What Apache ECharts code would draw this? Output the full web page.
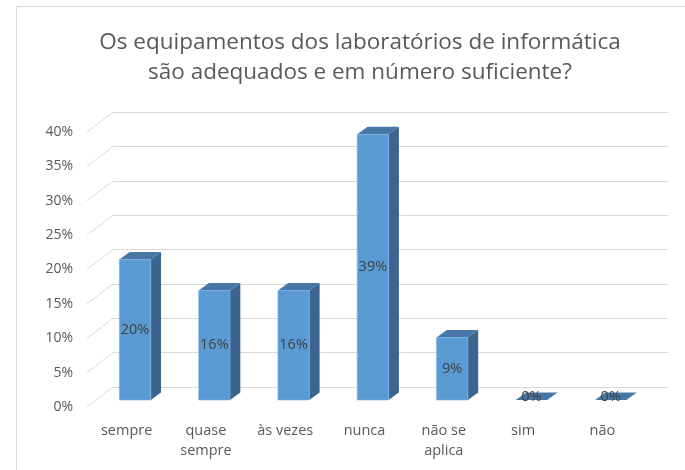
<!DOCTYPE html>
<html>
<head>
<meta charset="utf-8">
<script src="https://cdn.jsdelivr.net/npm/echarts@6/dist/echarts.min.js"></script>
<style>
  html, body { margin: 0; padding: 0; background: #fff; }
  #chart { width: 685px; height: 470px; }
</style>
</head>
<body>
<div id="chart"></div>
<script>
const titleLines = ["Os equipamentos dos laboratórios de informática", "são adequados e em número suficiente?"];
const categories = ["sempre", "quase sempre", "às vezes", "nunca", "não se aplica", "sim", "não"];
const values = [20.45, 15.91, 15.91, 38.64, 9.09, 0, 0];
const yTicks = [0, 5, 10, 15, 20, 25, 30, 35, 40];

// oblique offsets (px)
const labelPlane = [-26, 20];
const barFront = [-17.6, 13];
const depth = [10.3, -7.5];
const barW = 31.4;

const font = "'Open Sans', sans-serif";
const chart = echarts.init(document.getElementById("chart"));

const wrapLabel = (s) => {
  if (s.length <= 8) return s;
  const k = s.lastIndexOf(" ");
  return s.slice(0, k) + "\n" + s.slice(k + 1);
};

const renderDiag = (params, api) => {
  const p = api.coord([0, api.value(0)]);
  const x0 = params.coordSys.x;
  return {
    type: "line",
    shape: { x1: x0 + labelPlane[0], y1: p[1] + labelPlane[1], x2: x0, y2: p[1] },
    style: { stroke: "#d9d9d9", lineWidth: 1 },
  };
};

const renderBar = (params, api) => {
  const i = api.value(0);
  const v = api.value(1);
  const c0 = api.coord([i, 0]);
  const c1 = api.coord([i, v]);
  const fx = c0[0] + barFront[0] - barW / 2;
  const fb = c0[1] + barFront[1];
  const ft = c1[1] + barFront[1];
  const r = fx + barW;
  const children = [
    {
      type: "polygon",
      shape: { points: [[r, ft], [r + depth[0], ft + depth[1]], [r + depth[0], fb + depth[1]], [r, fb]] },
      style: { fill: "#3b6590" },
    },
    {
      type: "polygon",
      shape: { points: [[fx, ft], [fx + depth[0], ft + depth[1]], [r + depth[0], ft + depth[1]], [r, ft]] },
      style: { fill: "#4677a6" },
    },
  ];
  if (fb - ft > 0.5) {
    children.push({
      type: "rect",
      shape: { x: fx, y: ft, width: barW, height: fb - ft },
      style: { fill: "#5b9bd5", stroke: "#7fb2e0", lineWidth: 0.6 },
    });
  }
  children.push({
    type: "text",
    style: {
      x: fx + barW / 2,
      y: (ft + fb) / 2 - (fb - ft > 0.5 ? 0 : 3),
      text: Math.round(v) + "%",
      fill: "#404040",
      font: "14.5px " + font,
      align: "center",
      verticalAlign: "middle",
    },
  });
  return { type: "group", children: children };
};

const option = {
  animation: false,
  backgroundColor: "#fff",
  title: {
    text: titleLines.join("\n"),
    left: 355,
    textAlign: "center",
    top: 23,
    textStyle: { fontFamily: font, fontSize: 22.5, fontWeight: "normal", color: "#595959", lineHeight: 30 },
  },
  graphic: [
    {
      type: "rect",
      shape: { x: 16.5, y: 6.5, width: 760, height: 520 },
      style: { fill: null, stroke: "#d9d9d9", lineWidth: 1 },
      silent: true,
    },
  ],
  grid: [
    { left: 113, right: 17, top: 112, bottom: 83 },
    { left: 87, right: 43, top: 132, bottom: 63 },
  ],
  xAxis: [
    {
      gridIndex: 0, type: "category", data: categories,
      axisLine: { show: false }, axisTick: { show: false }, axisLabel: { show: false },
    },
    {
      gridIndex: 1, type: "category", data: categories,
      axisLine: { show: false }, axisTick: { show: false },
      axisLabel: {
        formatter: wrapLabel, margin: 14, color: "#595959",
        fontFamily: font, fontSize: 14.5, lineHeight: 20,
      },
    },
  ],
  yAxis: [
    {
      gridIndex: 0, type: "value", min: 0, max: 40, interval: 5,
      axisLine: { show: false }, axisTick: { show: false }, axisLabel: { show: false },
      splitLine: { lineStyle: { color: "#d9d9d9", width: 1 } },
    },
    {
      gridIndex: 1, type: "value", min: 0, max: 40, interval: 5,
      axisLine: { show: false }, axisTick: { show: false }, splitLine: { show: false },
      axisLabel: {
        formatter: "{value}%", margin: 14, color: "#595959",
        fontFamily: font, fontSize: 14,
      },
    },
  ],
  series: [
    {
      type: "custom", xAxisIndex: 0, yAxisIndex: 0,
      renderItem: renderDiag,
      data: yTicks.map((t) => [t]),
      encode: { y: 0 },
    },
    {
      type: "custom", xAxisIndex: 0, yAxisIndex: 0,
      renderItem: renderBar,
      data: values.map((v, i) => [i, v]),
      encode: { x: 0, y: 1 },
      z: 3,
    },
  ],
};

chart.setOption(option);
</script>
</body>
</html>
